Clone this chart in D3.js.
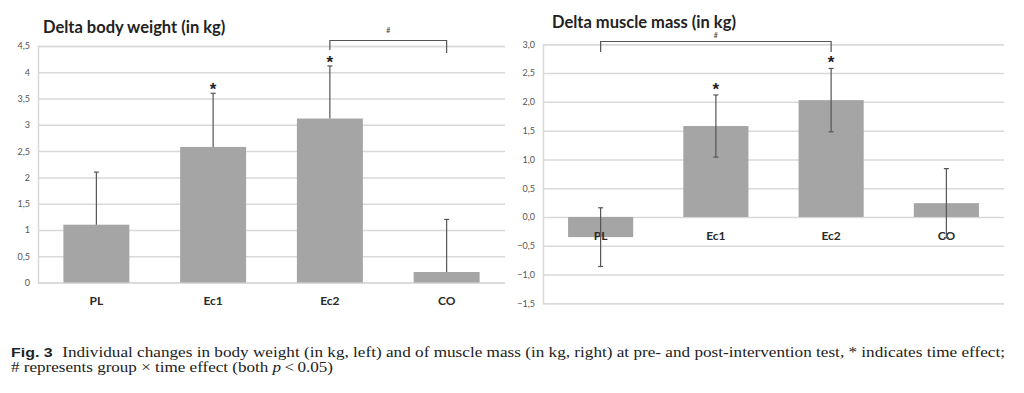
<!DOCTYPE html>
<html>
<head>
<meta charset="utf-8">
<script src="https://cdn.jsdelivr.net/npm/d3@7"></script>
<style>
  body { margin: 0; background: #fff; }
  svg { display: block; }
</style>
</head>
<body>
<div class="vis"></div>
<script>
'use strict';

// groups shared by both panels
var groups = ['PL', 'Ec1', 'Ec2', 'CO'];

// delta body weight (kg), mean and error (plus direction only)
var weightMeans = [1.10, 2.58, 3.12, 0.20];
var weightErrors = [1.00, 1.02, 1.00, 1.00];
var weightTicks = [0, 0.5, 1, 1.5, 2, 2.5, 3, 3.5, 4, 4.5];
var weightStars = ['Ec1', 'Ec2'];
var weightBracket = ['Ec2', 'CO'];

// delta muscle mass (kg), mean and error (both directions)
var muscleMeans = [-0.35, 1.58, 2.03, 0.24];
var muscleErrors = [0.51, 0.54, 0.55, 0.60];
var muscleTicks = [-1.5, -1.0, -0.5, 0, 0.5, 1.0, 1.5, 2.0, 2.5, 3.0];
var muscleStars = ['Ec1', 'Ec2'];
var muscleBracket = ['PL', 'Ec2'];

var width = 1024;
var height = 393;

var barColor = '#a5a5a5';
var gridColor = '#d9d9d9';
var errColor = '#555';

var svg = d3.select('.vis')
  .append('svg')
  .attr('width', width)
  .attr('height', height);

drawPanel({
  title: 'Delta body weight (in kg)',
  titleX: 43, titleY: 33,
  left: 38, right: 505, top: 46, bottom: 282.5,
  domain: [0, 4.5],
  ticks: weightTicks,
  format: function(d) { return d3.format('')(d).replace('.', ','); },
  means: weightMeans,
  errors: weightErrors,
  bothWays: false,
  stars: weightStars,
  starGap: 7,
  bracket: weightBracket,
  bracketTop: 40.5, legs: [50, 53],
  hashY: 33,
  labelY: 305
});

drawPanel({
  title: 'Delta muscle mass (in kg)',
  titleX: 552, titleY: 28,
  left: 543, right: 1004, top: 44.3, bottom: 303.3,
  domain: [-1.5, 3.0],
  ticks: muscleTicks,
  format: function(d) { return d3.format('.1f')(d).replace('.', ','); },
  means: muscleMeans,
  errors: muscleErrors,
  bothWays: true,
  stars: muscleStars,
  starGap: 9,
  bracket: muscleBracket,
  bracketTop: 41.5, legs: [52, 52],
  hashY: 38,
  labelY: 239.5
});

/**
 * Draws one bar panel with gridlines, error bars, stars and a bracket.
 */
function drawPanel( cfg ) {
  var g = svg.append('g');

  var x = d3.scaleBand()
    .domain( groups )
    .range( [cfg.left, cfg.right] )
    .paddingInner( 0.435 )
    .paddingOuter( 0.2175 );

  var y = d3.scaleLinear()
    .domain( cfg.domain )
    .range( [cfg.bottom, cfg.top] );

  // gridlines and tick labels
  var yAxis = d3.axisLeft( y )
    .tickValues( cfg.ticks )
    .tickSize( -(cfg.right - cfg.left) )
    .tickPadding( 8 )
    .tickFormat( cfg.format );

  var ax = g.append('g')
    .attr('transform', 'translate(' + cfg.left + ',0)')
    .call( yAxis );

  ax.select('.domain').attr('stroke', gridColor).attr('stroke-width', 1.5);
  ax.selectAll('.tick line').attr('stroke', gridColor).attr('stroke-width', 1.5);
  ax.selectAll('.tick text')
    .attr('fill', '#555')
    .style('font-family', 'Lato, sans-serif')
    .style('font-size', '9px');

  var y0 = y(0);

  // bars
  g.selectAll('rect.bar')
    .data( cfg.means )
    .enter()
    .append('rect')
    .attr('class', 'bar')
    .attr('x', function(d, i) { return x( groups[i] ); })
    .attr('width', x.bandwidth())
    .attr('y', function(d) { return Math.min( y(d), y0 ); })
    .attr('height', function(d) { return Math.abs( y(d) - y0 ); })
    .attr('fill', barColor);

  // category labels
  g.selectAll('text.cat')
    .data( groups )
    .enter()
    .append('text')
    .attr('class', 'cat')
    .attr('x', function(d) { return x(d) + x.bandwidth() / 2; })
    .attr('y', cfg.labelY)
    .attr('text-anchor', 'middle')
    .attr('fill', '#2a2a2a')
    .style('font-family', 'Lato, sans-serif')
    .style('font-weight', 'bold')
    .style('font-size', '12px')
    .text(function(d) { return d; });

  // error bars
  var err = g.selectAll('g.err')
    .data( cfg.means.map(function(m, i) {
      return { name: groups[i], hi: m + cfg.errors[i], lo: cfg.bothWays ? m - cfg.errors[i] : m };
    }) )
    .enter()
    .append('g')
    .attr('class', 'err')
    .attr('stroke', errColor)
    .attr('stroke-width', 1.2);

  err.append('line')
    .attr('x1', function(d) { return x(d.name) + x.bandwidth() / 2; })
    .attr('x2', function(d) { return x(d.name) + x.bandwidth() / 2; })
    .attr('y1', function(d) { return y(d.hi); })
    .attr('y2', function(d) { return y(d.lo); });

  err.append('line')
    .attr('x1', function(d) { return x(d.name) + x.bandwidth() / 2 - 2.5; })
    .attr('x2', function(d) { return x(d.name) + x.bandwidth() / 2 + 2.5; })
    .attr('y1', function(d) { return y(d.hi); })
    .attr('y2', function(d) { return y(d.hi); });

  if ( cfg.bothWays ) {
    err.append('line')
      .attr('x1', function(d) { return x(d.name) + x.bandwidth() / 2 - 2.5; })
      .attr('x2', function(d) { return x(d.name) + x.bandwidth() / 2 + 2.5; })
      .attr('y1', function(d) { return y(d.lo); })
      .attr('y2', function(d) { return y(d.lo); });
  }

  // stars for time effect
  g.selectAll('text.star')
    .data( cfg.stars )
    .enter()
    .append('text')
    .attr('class', 'star')
    .attr('x', function(d) { return x(d) + x.bandwidth() / 2; })
    .attr('y', function(d) {
      var i = groups.indexOf(d);
      return y( cfg.means[i] + cfg.errors[i] ) - cfg.starGap + 9;
    })
    .attr('text-anchor', 'middle')
    .attr('fill', '#222')
    .style('font-family', 'Liberation Sans, sans-serif')
    .style('font-weight', 'bold')
    .style('font-size', '17px')
    .text('*');

  // bracket for group x time effect
  var bx1 = x( cfg.bracket[0] ) + x.bandwidth() / 2;
  var bx2 = x( cfg.bracket[1] ) + x.bandwidth() / 2;
  g.append('path')
    .attr('d', 'M' + bx1 + ',' + cfg.legs[0] + 'V' + cfg.bracketTop + 'H' + bx2 + 'V' + cfg.legs[1])
    .attr('fill', 'none')
    .attr('stroke', '#555')
    .attr('stroke-width', 1.2);

  g.append('text')
    .attr('x', (bx1 + bx2) / 2)
    .attr('y', cfg.hashY)
    .attr('text-anchor', 'middle')
    .attr('fill', '#333')
    .style('font-family', 'Lato, sans-serif')
    .style('font-size', '7px')
    .text('#');

  // title
  g.append('text')
    .attr('x', cfg.titleX)
    .attr('y', cfg.titleY)
    .attr('fill', '#222')
    .style('font-family', 'Lato, sans-serif')
    .style('font-weight', 'bold')
    .style('font-size', '16.5px')
    .text( cfg.title );
}

// caption, stretched to the same line lengths as the figure
var cap = svg.append('text')
  .attr('x', 11)
  .attr('y', 357)
  .attr('textLength', 994)
  .attr('lengthAdjust', 'spacingAndGlyphs')
  .attr('fill', '#222')
  .style('font-family', 'Liberation Serif, serif')
  .style('font-size', '14.5px');

cap.append('tspan')
  .style('font-family', 'Liberation Sans, sans-serif')
  .style('font-weight', 'bold')
  .style('font-size', '13.5px')
  .text('Fig. 3');
cap.append('tspan')
  .attr('dx', 8)
  .text('Individual changes in body weight (in kg, left) and of muscle mass (in kg, right) at pre- and post-intervention test, * indicates time effect;');

var cap2 = svg.append('text')
  .attr('x', 11)
  .attr('y', 372)
  .attr('textLength', 322)
  .attr('lengthAdjust', 'spacingAndGlyphs')
  .attr('fill', '#222')
  .style('font-family', 'Liberation Serif, serif')
  .style('font-size', '14.5px');

cap2.append('tspan').text('# represents group \u00d7 time effect (both ');
cap2.append('tspan').style('font-style', 'italic').text('p');
cap2.append('tspan').text('\u2009<\u20090.05)');
</script>
</body>
</html>
